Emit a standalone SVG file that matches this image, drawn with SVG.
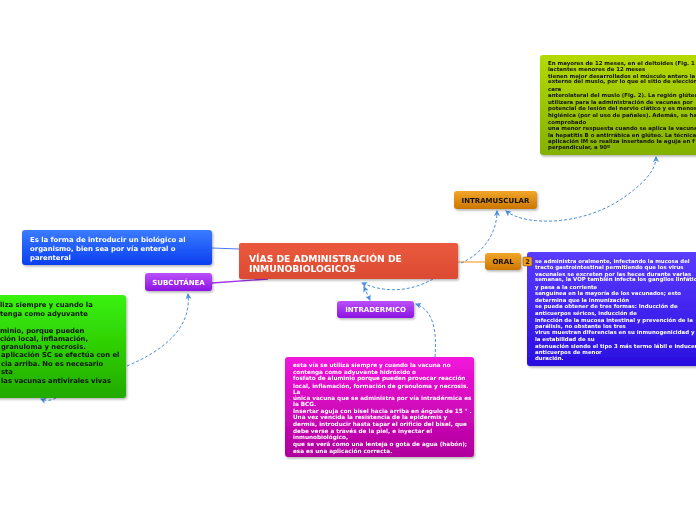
<svg xmlns="http://www.w3.org/2000/svg" width="696" height="520" viewBox="0 0 696 520">
<style>
  .t { font-family: "DejaVu Sans", Verdana, sans-serif; font-weight: bold; }
  .w { fill: #ffffff; }
  .k { fill: #111111; }
  .lbl { font-size: 7px; text-anchor: middle; }
  .dash { fill: none; stroke: #4a8fe2; stroke-width: 1; stroke-dasharray: 3 2; }
  .node { filter: url(#sh); }
</style>
<defs>
  <filter id="sh" x="-10%" y="-20%" width="130%" height="150%">
    <feDropShadow dx="1.2" dy="1.5" stdDeviation="1.2" flood-color="#000" flood-opacity="0.3"/>
  </filter>
  <linearGradient id="gRed" x1="0" y1="0" x2="0" y2="1"><stop offset="0" stop-color="#ea5a3e"/><stop offset="1" stop-color="#dc4a32"/></linearGradient>
  <linearGradient id="gBlue" x1="0" y1="0" x2="0" y2="1"><stop offset="0" stop-color="#3a7cff"/><stop offset="1" stop-color="#0a3ef0"/></linearGradient>
  <linearGradient id="gPurple" x1="0" y1="0" x2="0" y2="1"><stop offset="0" stop-color="#bb50fa"/><stop offset="1" stop-color="#8c14e2"/></linearGradient>
  <linearGradient id="gOrange" x1="0" y1="0" x2="0" y2="1"><stop offset="0" stop-color="#f2a62a"/><stop offset="1" stop-color="#cc7600"/></linearGradient>
  <linearGradient id="gGreen" x1="0" y1="0" x2="0" y2="1"><stop offset="0" stop-color="#3af20a"/><stop offset="1" stop-color="#22aa00"/></linearGradient>
  <linearGradient id="gLime" x1="0" y1="0" x2="0" y2="1"><stop offset="0" stop-color="#b4da00"/><stop offset="1" stop-color="#84b000"/></linearGradient>
  <linearGradient id="gIndigo" x1="0" y1="0" x2="0" y2="1"><stop offset="0" stop-color="#5a3cff"/><stop offset="1" stop-color="#2a0ee0"/></linearGradient>
  <linearGradient id="gMagenta" x1="0" y1="0" x2="0" y2="1"><stop offset="0" stop-color="#f214dc"/><stop offset="1" stop-color="#b0009c"/></linearGradient>
  <marker id="ah" viewBox="0 0 6 6" refX="5" refY="3" markerWidth="6" markerHeight="6" markerUnits="userSpaceOnUse" orient="auto-start-reverse">
    <path d="M0,0 L6,3 L0,6 L1.5,3 z" fill="#4a8fe2"/>
  </marker>
</defs>

<g id="connectors">
  <line x1="212" y1="248" x2="239" y2="249" stroke="#4a7af8" stroke-width="1.2"/>
  <path d="M212,283 Q240,281 268,279" fill="none" stroke="#a032ea" stroke-width="1.3"/>
  <line x1="458" y1="262" x2="485" y2="262" stroke="#fcc888" stroke-width="2"/>
  <path class="dash" d="M461,263 C480,255 497,236 497,211" marker-end="url(#ah)"/>
  <path class="dash" d="M506,211 C525,226 580,226 620,200 C645,183 656,170 656,157" marker-start="url(#ah)" marker-end="url(#ah)"/>
  <path class="dash" d="M433,279 C410,292 385,293 362,283" marker-end="url(#ah)"/>
  <path class="dash" d="M364,287 L370,300" marker-start="url(#ah)" marker-end="url(#ah)"/>
  <path class="dash" d="M435,357 C437,330 433,310 416,304" marker-end="url(#ah)"/>
  <path class="dash" d="M127,366 C160,352 192,330 188,294" marker-end="url(#ah)"/>
  <path class="dash" d="M56,398 C50,401 46,401 41,399" marker-end="url(#ah)"/>
</g>

<g id="center" class="node">
  <rect x="239" y="243" width="219" height="36" rx="2" fill="url(#gRed)"/>
  <text class="t w" font-size="9.2" x="249" y="261.5">VÍAS DE ADMINISTRACIÓN DE</text>
  <text class="t w" font-size="9.2" x="249" y="271.5">INMUNOBIOLOGICOS</text>
</g>

<g id="definicion" class="node">
  <rect x="22" y="230" width="190" height="35" rx="3" fill="url(#gBlue)"/>
  <text class="t w" font-size="6.9" x="30" y="242.3">Es la forma de introducir un biológico al</text>
  <text class="t w" font-size="6.9" x="30" y="251">organismo, bien sea por vía enteral o</text>
  <text class="t w" font-size="6.9" x="30" y="259.5">parenteral</text>
</g>

<g id="subcutanea" class="node">
  <rect x="145" y="273" width="67" height="18" rx="3" fill="url(#gPurple)"/>
  <text class="t w lbl" x="178.5" y="284.5">SUBCUTÁNEA</text>
</g>

<g id="subcutanea-texto" class="node">
  <rect x="-10" y="295" width="136" height="103" rx="3" fill="url(#gGreen)"/>
  <g class="t k" font-size="6.8">
    <text x="0" y="307">liza siempre y cuando la</text>
    <text x="0" y="316.3">tenga como adyuvante</text>
    <text x="0" y="332.8">minio, porque pueden</text>
    <text x="0" y="340.7">ción local, inflamación,</text>
    <text x="1" y="349">granuloma y necrosis.</text>
    <text x="1" y="357">aplicación SC se efectúa con el</text>
    <text x="1" y="365.5">cia arriba. No es necesario</text>
    <text x="1" y="374.3">sta</text>
    <text x="1" y="383.3">las vacunas antivirales vivas</text>
  </g>
</g>

<g id="intradermico" class="node">
  <rect x="337" y="301" width="77" height="17" rx="3" fill="url(#gPurple)"/>
  <text class="t w lbl" x="375.5" y="312">INTRADERMICO</text>
</g>

<g id="intradermico-texto" class="node">
  <rect x="285" y="357" width="189" height="100" rx="3" fill="url(#gMagenta)"/>
  <g class="t w" font-size="5.7">
    <text x="293" y="367">esta vía se utiliza siempre y cuando la vacuna no</text>
    <text x="293" y="374.3">contenga como adyuvante hidróxido o</text>
    <text x="293" y="380.3">fosfato de aluminio porque pueden provocar reacción</text>
    <text x="293" y="387.7">local, inflamación, formación de granuloma y necrosis.</text>
    <text x="293" y="393.7">La</text>
    <text x="293" y="400">única vacuna que se administra por vía intradérmica es</text>
    <text x="293" y="406">la BCG.</text>
    <text x="293" y="413.3">Insertar aguja con bisel hacia arriba en ángulo de 15 ° .</text>
    <text x="293" y="419.3">Una vez vencida la resistencia de la epidermis y</text>
    <text x="293" y="426.3">dermis, introducir hasta tapar el orificio del bisel, que</text>
    <text x="293" y="432.7">debe verse a través de la piel, e inyectar el</text>
    <text x="293" y="439.3">inmunobiológico,</text>
    <text x="293" y="446">que se verá como una lenteja o gota de agua (habón);</text>
    <text x="293" y="452.7">esa es una aplicación correcta.</text>
  </g>
</g>

<g id="intramuscular" class="node">
  <rect x="454" y="191" width="83" height="18" rx="3" fill="url(#gOrange)"/>
  <text class="t k lbl" x="495.5" y="202.5">INTRAMUSCULAR</text>
</g>

<g id="intramuscular-texto" class="node">
  <rect x="540" y="55" width="170" height="100" rx="3" fill="url(#gLime)"/>
  <g class="t k" font-size="5.45">
    <text x="548" y="65">En mayores de 12 meses, en el deltoides (Fig. 1</text>
    <text x="548" y="70.7">lactantes menores de 12 meses</text>
    <text x="548" y="78">tienen mejor desarrollados el músculo antero la</text>
    <text x="548" y="83.3">externo del muslo, por lo que el sitio de elección</text>
    <text x="548" y="90.7">cara</text>
    <text x="548" y="97.3">anterolateral del muslo (Fig. 2). La región glútea</text>
    <text x="548" y="104">utilizara para la administración de vacunas por</text>
    <text x="548" y="110">potencial de lesión del nervio ciático y es menos</text>
    <text x="548" y="117.3">higiénica (por el uso de pañales). Además, se ha</text>
    <text x="548" y="124">comprobado</text>
    <text x="548" y="130">una menor respuesta cuando se aplica la vacuna</text>
    <text x="548" y="137">la hepatitis B o antirrábica en glúteo. La técnica</text>
    <text x="548" y="143.3">aplicación IM se realiza insertando la aguja en f</text>
    <text x="548" y="149.3">perpendicular, a 90º</text>
  </g>
</g>

<g id="oral" class="node">
  <rect x="485" y="253" width="36" height="17" rx="3" fill="url(#gOrange)"/>
  <text class="t k lbl" x="503" y="264.3">ORAL</text>
</g>

<g id="oral-texto" class="node">
  <rect x="527" y="252" width="183" height="114" rx="3" fill="url(#gIndigo)"/>
  <g class="t w" font-size="5.4">
    <text x="535" y="263">se administra oralmente, infectando la mucosa del</text>
    <text x="535" y="268.7">tracto gastrointestinal permitiendo que los virus</text>
    <text x="535" y="276">vacunales se excreten por las heces durante varias</text>
    <text x="535" y="281.3">semanas, la VOP también infecta los ganglios linfáticos</text>
    <text x="535" y="288.7">y pasa a la corriente</text>
    <text x="535" y="294.7">sanguínea en la mayoría de los vacunados; esto</text>
    <text x="535" y="302">determina que la inmunización</text>
    <text x="535" y="308">se pueda obtener de tres formas: Inducción de</text>
    <text x="535" y="315.3">anticuerpos séricos, inducción de</text>
    <text x="535" y="322">infección de la mucosa intestinal y prevención de la</text>
    <text x="535" y="328">parálisis, no obstante los tres</text>
    <text x="535" y="334.3">virus muestran diferencias en su inmunogenicidad y</text>
    <text x="535" y="341.3">la estabilidad de su</text>
    <text x="535" y="347.7">atenuación siendo el tipo 3 más termo lábil e inducen</text>
    <text x="535" y="354">anticuerpos de menor</text>
    <text x="535" y="360.3">duración.</text>
  </g>
</g>

<g id="badge">
  <rect x="523" y="257" width="9" height="9" rx="1.5" fill="#f2a020" stroke="#7a4a00" stroke-width="0.6"/>
  <text class="t" x="527.5" y="264" font-size="6.5" text-anchor="middle" fill="#3a2000">2</text>
</g>
</svg>
